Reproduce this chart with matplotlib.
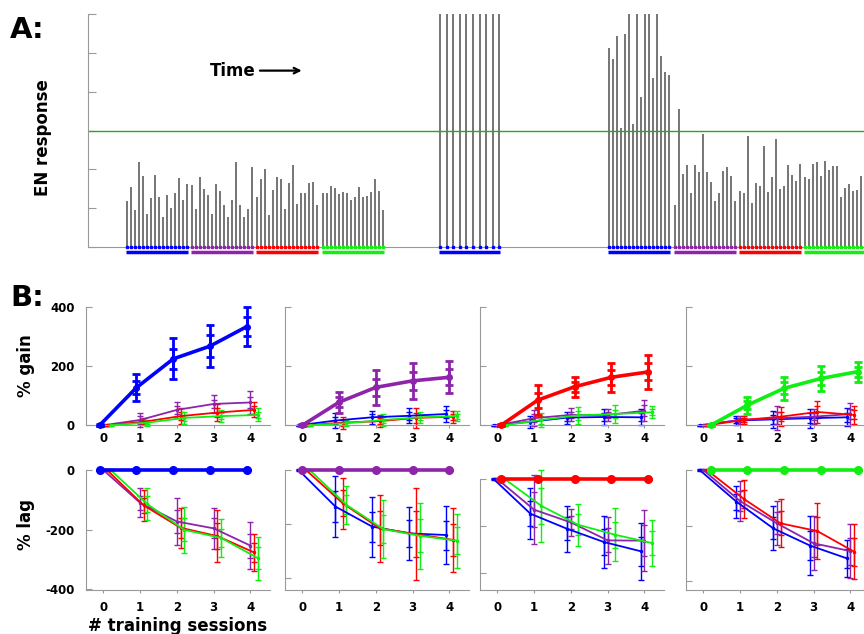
import numpy as np
import matplotlib
matplotlib.use('Agg')
import matplotlib.pyplot as plt

plt.rcParams['font.family'] = ['DejaVu Sans']
plt.rcParams['font.weight'] = 'bold'
plt.rcParams['axes.unicode_minus'] = False

# ---- panel A data: EN response per trial, grouped by odor block ----
group_colors = ['blue', 'purple', 'red', 'green', 'blue', 'blue', 'purple', 'red', 'green']
group_start = [9.7, 26.0, 42.3, 58.7, 88.0, 130.3, 146.7, 163.0, 179.3]
group_step = [1, 1, 1, 1, 1.65, 1, 1, 1, 1]
group_heights = [
    [1.18, 1.55, 0.96, 2.18, 1.82, 0.84, 1.26, 1.85, 1.30, 0.76, 1.33, 1.01, 1.39, 1.77, 1.22, 1.62],
    [1.60, 0.98, 1.79, 1.50, 1.33, 0.84, 1.62, 1.43, 1.09, 0.76, 1.22, 2.20, 1.08, 0.76, 0.99, 2.06],
    [1.30, 1.74, 2.00, 0.83, 1.46, 1.81, 1.75, 0.98, 1.64, 2.12, 1.10, 1.39, 1.39, 1.65, 1.67, 1.07],
    [1.38, 1.39, 1.56, 1.53, 1.36, 1.41, 1.38, 1.20, 1.29, 1.55, 1.29, 1.32, 1.41, 1.75, 1.43, 0.95],
    [7, 7, 7, 7, 7, 7, 7, 7, 7, 7],
    [5.12, 4.83, 5.43, 3.06, 5.49, 7, 3.16, 7, 3.87, 7, 7, 4.35, 7, 4.92, 4.51, 4.42],
    [1.08, 3.56, 1.87, 2.12, 1.39, 2.12, 1.94, 2.90, 1.94, 1.68, 1.18, 1.39, 1.96, 2.06, 1.83, 1.18],
    [1.45, 1.39, 2.85, 1.13, 1.64, 1.56, 2.61, 1.42, 1.81, 2.79, 1.50, 1.58, 2.12, 1.86, 1.69, 2.13],
    [1.79, 1.74, 2.15, 2.18, 1.83, 2.22, 1.97, 2.08, 2.08, 1.30, 1.53, 1.63, 1.44, 1.46, 1.83, 1.20],
]
threshold = 3.0

# ---- panel B data: % gain / % lag vs training sessions ----
sessions = [0, 1, 2, 3, 4]
odors = ['blue', 'purple', 'red', 'green']

gain_mean = {
    'blue':   {'blue': [0, 127, 224, 267, 333], 'purple': [0, 18, 52, 72, 77], 'red': [0, 12, 31, 43, 52], 'green': [0, 9, 25, 31, 35]},
    'purple': {'blue': [0, 16, 27, 32, 38], 'purple': [0, 78, 128, 150, 162], 'red': [0, 9, 14, 25, 29], 'green': [0, 7, 18, 27, 31]},
    'red':    {'blue': [0, 12, 26, 28, 27], 'purple': [0, 24, 35, 35, 49], 'red': [0, 85, 130, 162, 180], 'green': [0, 18, 34, 38, 44]},
    'green':  {'blue': [0, 16, 20, 24, 27], 'purple': [0, 18, 24, 29, 38], 'red': [0, 18, 29, 45, 35], 'green': [0, 68, 125, 158, 181]},
}
gain_err = {
    'blue':   {'blue': [3, 46, 69, 72, 65], 'purple': [3, 25, 27, 30, 38], 'red': [2, 12, 26, 30, 25], 'green': [2, 10, 20, 21, 22]},
    'purple': {'blue': [2, 24, 22, 25, 27], 'purple': [3, 35, 58, 61, 54], 'red': [2, 20, 20, 35, 20], 'green': [2, 10, 19, 18, 17]},
    'red':    {'blue': [2, 20, 20, 26, 27], 'purple': [2, 28, 22, 20, 36], 'red': [3, 51, 34, 49, 57], 'green': [2, 25, 29, 29, 21]},
    'green':  {'blue': [2, 16, 29, 32, 31], 'purple': [2, 15, 41, 25, 36], 'red': [2, 12, 32, 38, 30], 'green': [3, 29, 39, 42, 34]},
}
lag_mean = {
    'blue':   {'blue': [0, 0, 0, 0, 0], 'purple': [0, -110, -173, -196, -254], 'red': [0, -119, -194, -222, -277], 'green': [0, -115, -201, -228, -296]},
    'purple': {'blue': [0, -135, -209, -234, -240], 'purple': [0, 0, 0, 0, 0], 'red': [0, -123, -215, -237, -258], 'green': [0, -129, -218, -243, -261]},
    'red':    {'blue': [0, -147, -211, -267, -306], 'purple': [0, -130, -184, -260, -261], 'red': [0, 0, 0, 0, 0], 'green': [0, -114, -194, -236, -271]},
    'green':  {'blue': [0, -114, -210, -272, -318], 'purple': [0, -112, -192, -264, -292], 'red': [0, -104, -192, -220, -294], 'green': [0, 0, 0, 0, 0]},
}
lag_err = {
    'blue':   {'blue': [0, 0, 0, 0, 0], 'purple': [3, 48, 79, 68, 80], 'red': [3, 51, 68, 88, 63], 'green': [3, 53, 77, 63, 72]},
    'purple': {'blue': [3, 112, 111, 98, 107], 'purple': [0, 0, 0, 0, 0], 'red': [3, 95, 124, 170, 118], 'green': [3, 70, 106, 122, 99]},
    'red':    {'blue': [3, 107, 96, 111, 121], 'purple': [3, 146, 56, 101, 129], 'red': [0, 0, 0, 0, 0], 'green': [3, 151, 88, 112, 98]},
    'green':  {'blue': [3, 58, 79, 107, 66], 'purple': [3, 71, 79, 97, 98], 'red': [3, 67, 86, 100, 100], 'green': [0, 0, 0, 0, 0]},
}

colors = {'blue': '#0000ff', 'purple': '#8e24aa', 'red': '#ff0000', 'green': '#11ee11'}
offsets = {'blue': -0.1, 'purple': 0.0, 'red': 0.1, 'green': 0.2}
inner_frac = 0.5
spine_col = '0.6'

W, H = 864, 634
fig = plt.figure(figsize=(W / 100, H / 100), dpi=100)


def px_axes(left, top, right, bottom):
    return fig.add_axes([left / W, 1 - bottom / H, (right - left) / W, (bottom - top) / H])


def style(ax):
    for s in ['top', 'right']:
        ax.spines[s].set_visible(False)
    for s in ['left', 'bottom']:
        ax.spines[s].set_color(spine_col)
    ax.tick_params(axis='y', direction='in', length=4, color=spine_col)
    ax.tick_params(axis='x', direction='out', length=2, color=spine_col)


# ---------------- panel A ----------------
axA = px_axes(88, 14, 864, 247)
style(axA)
axA.tick_params(axis='y', length=5.5)
axA.set_xlim(0, 194)
axA.set_ylim(0, 6)
axA.set_yticks(range(7))
axA.set_yticklabels([])
axA.set_xticks([])
for col, start, step, hts in zip(group_colors, group_start, group_step, group_heights):
    t = start + step * np.arange(len(hts))
    axA.vlines(t, 0, hts, color='#505050', lw=1.1)
    axA.plot(t, np.zeros(len(t)), ls='none', marker='s', ms=1.6, color=colors[col], clip_on=False, zorder=3)
    axA.plot([t[0] - 0.2, t[-1] + 0.2], [-0.12, -0.12], color=colors[col], lw=2.5,
             solid_capstyle='butt', clip_on=False)
axA.axhline(threshold, color='#22aa22', lw=1)
axA.set_ylabel('EN response', fontsize=12, fontweight='bold')
axA.yaxis.set_label_coords(-0.046, 0.47)
axA.annotate('', xy=(0.279, 0.757), xytext=(0.218, 0.757), xycoords='axes fraction',
             arrowprops=dict(arrowstyle='->', lw=1.6, color='black'))
axA.text(0.157, 0.755, 'Time', transform=axA.transAxes, fontsize=12, fontweight='bold',
         va='center', ha='left')
fig.text(10 / W, 1 - 30 / H, 'A:', fontsize=21, fontweight='bold', va='center', ha='left')
fig.text(10 / W, 1 - 298 / H, 'B:', fontsize=21, fontweight='bold', va='center', ha='left')

# ---------------- panel B ----------------
col_left = [86, 285, 480, 686]
col_w = 184
lag_top = [470, 470, 479, 470]
lag_lims = [(-403, 0), (-443, 0), (-470, 0), (-432, 0)]


def draw_series(ax, x, m, e, c, thick, row):
    if thick:
        lw, elw, cs, mk, ms = 2.6, 2.0, 3, 'o', (4 if row == 0 else 5.5)
    else:
        lw, elw, cs, mk, ms = 1.3, 1.0, 2.5, '.', 3
    arts = []
    cont = ax.errorbar(x, m, yerr=e, color=c, lw=lw, elinewidth=elw, capsize=cs,
                       capthick=elw, marker=mk, ms=ms, zorder=4 if thick else 2)
    arts += cont.get_children()
    cont2 = ax.errorbar(x, m, yerr=np.array(e) * inner_frac, fmt='none', ecolor=c,
                        elinewidth=elw, capsize=cs, capthick=elw, zorder=4 if thick else 2)
    arts += cont2.get_children()
    for a in arts:
        a.set_clip_on(False)


for j, trained in enumerate(odors):
    ax1 = px_axes(col_left[j], 306.7, col_left[j] + col_w, 425.3)
    ax2 = px_axes(col_left[j], lag_top[j], col_left[j] + col_w, 590)
    for row, (ax, means, errs) in enumerate([(ax1, gain_mean, gain_err), (ax2, lag_mean, lag_err)]):
        style(ax)
        ax.set_xlim(-0.47, 4.53)
        ax.set_xticks(sessions)
        order = [o for o in odors if o != trained] + [trained]
        for o in order:
            x = np.array(sessions) + offsets[o]
            draw_series(ax, x, means[trained][o], errs[trained][o], colors[o], o == trained, row)
        ax.tick_params(axis='x', labelsize=8.5, pad=3 if row == 0 else 6)
        ax.tick_params(axis='y', labelsize=8.5, pad=8)
    ax1.set_ylim(0, 400)
    ax1.set_yticks([0, 200, 400])
    ax2.set_ylim(*lag_lims[j])
    ax2.set_yticks([-400, -200, 0])
    if j > 0:
        ax1.set_yticklabels([])
        ax2.set_yticklabels([])
    else:
        ax1.set_ylabel('% gain', fontsize=12, fontweight='bold')
        ax1.yaxis.set_label_coords(-0.277, 0.5)
        ax2.set_ylabel('% lag', fontsize=12, fontweight='bold')
        ax2.yaxis.set_label_coords(-0.277, 0.55)
        ax2.set_xlabel('# training sessions', fontsize=12, fontweight='bold')
        ax2.xaxis.set_label_coords(0.5, -0.225)

fig.savefig('out.png', dpi=100)
